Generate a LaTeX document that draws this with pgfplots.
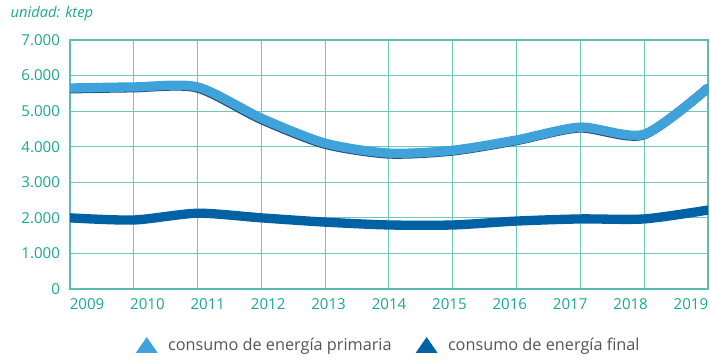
\documentclass[border=0pt]{standalone}
\usepackage{fontspec}
\setmainfont{Open Sans}
\usepackage{pgfplots}
\pgfplotsset{compat=1.18}
\definecolor{tealtxt}{HTML}{18A892}
\definecolor{gridc}{HTML}{6FC6BA}
\definecolor{prim}{HTML}{3FA2DA}
\definecolor{fin}{HTML}{0062A5}
\definecolor{shadow}{HTML}{1E4D72}
\definecolor{legtxt}{HTML}{555555}
\begin{document}
\begin{tikzpicture}[x=0.75pt,y=0.75pt]
\path[use as bounding box] (0,0) rectangle (710,361);
\node[anchor=west,text=tealtxt,font=\fontsize{11}{13}\selectfont\itshape] at (6,347) {unidad: ktep};
\begin{axis}[
  at={(70pt*0.75,72pt*0.75)}, anchor=origin,
  scale only axis, width=478.5pt, height=186.75pt,
  xmin=2009, xmax=2019, ymin=0, ymax=7000,
  xtick={2009,...,2019}, xticklabels={},
  extra x ticks={2009.267,2010.213,2011.160,2012.107,2013.053,2014,2014.947,2015.893,2016.840,2017.787,2018.733},
  extra x tick labels={2009,2010,2011,2012,2013,2014,2015,2016,2017,2018,2019},
  extra x tick style={grid=none, tick style={draw=none}},
  ytick={0,1000,...,7000},
  grid=major,
  major grid style={gridc, line width=0.8pt},
  axis line style={gridc!85!teal, line width=0.8pt},
  tick style={draw=none},
  ticklabel style={text=tealtxt, font=\fontsize{11.3}{13}\selectfont},
  /pgf/number format/assume math mode=true,
  x tick label style={yshift=-4pt},
  y tick label style={/pgf/number format/1000 sep={.}, xshift=-4pt},
  legend style={at={(0.5,-0.175)}, anchor=north, draw=none, legend columns=2,
    font=\fontsize{12.2}{14}\selectfont\color{legtxt},
    /tikz/every even column/.append style={column sep=16pt}},
  legend cell align=left,
]
\addplot[shadow, line width=7pt, line cap=round, smooth, tension=0.45, forget plot, transform canvas={xshift=-0.8pt,yshift=-0.6pt}] coordinates {
(2009,5650)(2010,5680)(2011,5680)(2012,4800)(2013,4100)(2014,3820)(2015,3900)(2016,4190)(2017,4550)(2018,4350)(2019,5650)};
\addplot[prim, line width=7pt, line cap=round, smooth, tension=0.45,
  legend image code/.code={\fill[prim,draw=none,line width=0pt] (0cm,-0.2cm) -- (0.58cm,-0.2cm) -- (0.29cm,0.22cm) -- cycle; \path (0.66cm,0);}] coordinates {
(2009,5650)(2010,5680)(2011,5680)(2012,4800)(2013,4100)(2014,3820)(2015,3900)(2016,4190)(2017,4550)(2018,4350)(2019,5650)};
\addplot[fin, line width=7pt, line cap=round, smooth, tension=0.45,
  legend image code/.code={\fill[fin,draw=none,line width=0pt] (0cm,-0.2cm) -- (0.58cm,-0.2cm) -- (0.29cm,0.22cm) -- cycle; \path (0.66cm,0);}] coordinates {
(2009,2000)(2010,1940)(2011,2130)(2012,2000)(2013,1880)(2014,1800)(2015,1800)(2016,1910)(2017,1970)(2018,1970)(2019,2220)};
\legend{consumo de energía primaria, consumo de energía final}
\end{axis}
\end{tikzpicture}
\end{document}
